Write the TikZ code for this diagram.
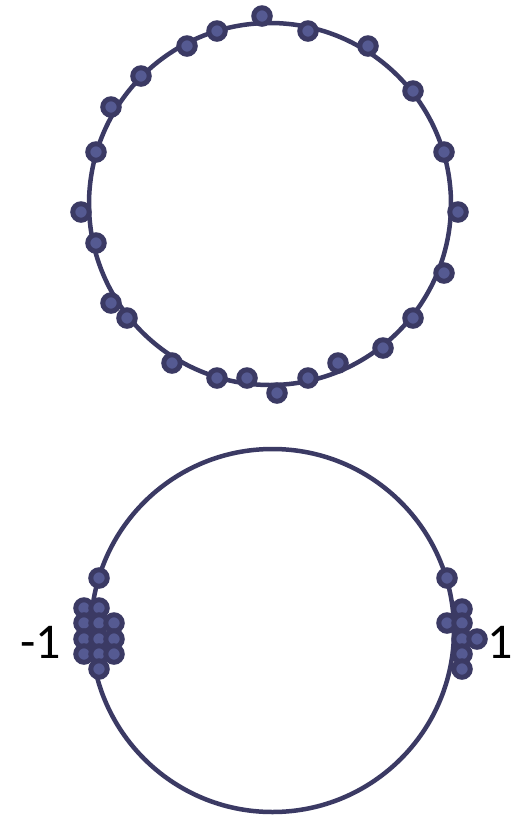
\documentclass[tikz,border=0pt]{standalone}
\usepackage{fontspec}
\setmainfont{Carlito}
\definecolor{ringc}{HTML}{3B3A64}
\definecolor{dotin}{HTML}{555A92}
\begin{document}
\begin{tikzpicture}[x=1pt,y=-1pt,
  ring/.style={draw=ringc,line width=4.5pt},
  dot/.style={circle,draw=ringc,fill=dotin,line width=5pt,minimum size=16.5pt,inner sep=0pt},
  lab/.style={font=\fontsize{50}{50}\selectfont,inner sep=0pt,anchor=base}]
\useasboundingbox (0,0) rectangle (512,815);
\fill[white] (0,0) rectangle (512,815);
% top ring
\draw[ring] (270,204) circle[radius=181];
\foreach \x/\y [count=\i] in {262/16,217/31,187/46,141/76,111/107,96/152,308/31,368/46,413/91,444/152,
  458/212,81/212,96/243,111/303,127/318,172/363,217/378,247/378,277/393,308/378,338/363,383/348,413/318,444/273}
  \node[dot] (t\i) at (\x,\y) {};
% bottom ring
\draw[ring] (272.5,630.5) circle[radius=181.5];
\foreach \x/\y [count=\i] in {99/578,84/608,99/608,84/623,99/623,114/623,84/639,99/639,114/639,84/654,99/654,114/654,99/669}
  \node[dot] (l\i) at (\x,\y) {};
\foreach \x/\y [count=\i] in {447/578,462/609,447/623,462/623,462/639,477/639,462/654,462/669}
  \node[dot] (r\i) at (\x,\y) {};
\node[lab] (m1) at (41,658) {-1};
\node[lab] (p1) at (500,658) {1};
\end{tikzpicture}
\end{document}
